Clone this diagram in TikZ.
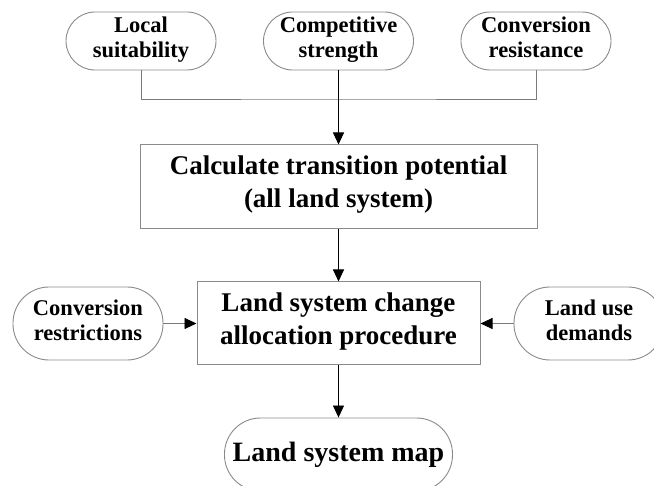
\documentclass[tikz,border=0pt]{standalone}
\usepackage{fontspec}
\setmainfont{Liberation Serif}
\usepackage{tikz}
\usetikzlibrary{shapes,arrows,arrows.meta,positioning,calc}

\definecolor{edgegray}{HTML}{8A8A8A}
\definecolor{linegray}{HTML}{7A7A7A}

\tikzset{
  oval/.style={draw=edgegray,line width=0.9pt,rounded corners=29pt,minimum width=150pt,minimum height=58pt,align=center,font=\fontsize{22.5}{25}\selectfont\bfseries,inner sep=2pt,execute at begin node=\rule{0pt}{24pt},execute at end node=\strut},
  procbox/.style={draw=edgegray,line width=1pt,align=center,font=\fontsize{27}{33}\selectfont\bfseries,execute at begin node=\strut,execute at end node=\strut},
  tip/.style={-{Triangle[length=12pt,width=11pt,color=black]}}
}

\begin{document}
\begin{tikzpicture}[x=1pt,y=-1pt]
  \useasboundingbox (0,0) rectangle (654,486);

  \node[oval] (local) at (141,41) {Local\\suitability};
  \node[oval] (comp) at (338.5,41) {Competitive\\strength};
  \node[oval] (cres) at (536,41) {Conversion\\resistance};

  \node[procbox,minimum width=397pt,minimum height=84pt] (calc) at (338.5,187) {Calculate transition potential\\(all land system)};
  \node[procbox,minimum width=283pt,minimum height=83pt] (alloc) at (338.5,323.5) {Land system change\\allocation procedure};

  \node[oval,minimum height=73pt,rounded corners=36pt] (crest) at (88,323.5) {Conversion\\restrictions};
  \node[oval,minimum height=73pt,rounded corners=36pt] (demand) at (589,323.5) {Land use\\demands};
  \node[oval,minimum width=228pt,minimum height=73pt,rounded corners=36pt,font=\fontsize{28}{33}\selectfont\bfseries,execute at begin node=\strut] (map) at (338.5,454.5) {Land system map};

  \coordinate (join) at (338.5,99);
  \draw[linegray,line width=0.9pt] (local.south) |- (join) -| (cres.south);
  \draw[tip,line width=0.9pt] (comp.south) -- (calc.north);
  \draw[tip,line width=0.9pt] (calc.south) -- (alloc.north);
  \draw[tip,line width=0.9pt] (alloc.south) -- (map.north);
  \draw[tip,linegray,line width=0.9pt] (crest.east) -- (alloc.west);
  \draw[tip,linegray,line width=0.9pt] (demand.west) -- (alloc.east);
\end{tikzpicture}
\end{document}
